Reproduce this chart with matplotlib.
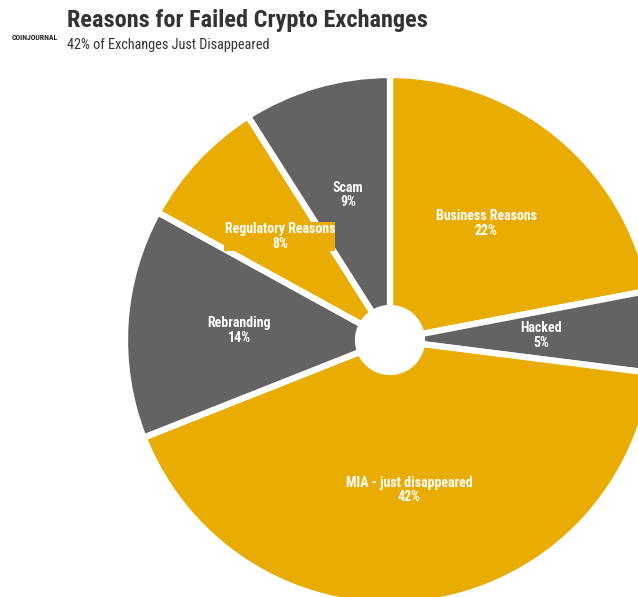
import matplotlib.pyplot as plt
from matplotlib import font_manager

reasons = ["Business Reasons", "Hacked", "MIA - just disappeared",
           "Rebranding", "Regulatory Reasons", "Scam"]
shares = [22, 5, 42, 14, 8, 9]

gold = "#E9AC03"
gray = "#636363"
colors = [gold, gray, gold, gray, gold, gray]

# pick a condensed font if one is there
installed = {f.name for f in font_manager.fontManager.ttflist}
narrow = "Roboto"
for name in ["Roboto Condensed", "Archivo Narrow", "Liberation Sans Narrow"]:
    if name in installed:
        narrow = name
        break

fig = plt.figure(figsize=(6.38, 5.97), dpi=100)
ax = fig.add_axes([0, 0, 1, 1])

labels = [f"{r}\n{s}%" for r, s in zip(reasons, shares)]
wedges, texts = ax.pie(shares, labels=labels, colors=colors, startangle=90,
                       counterclock=False, center=(390, 257), radius=265,
                       labeldistance=0.57, frame=True,
                       wedgeprops=dict(width=233, edgecolor="white",
                                       linewidth=4.5, joinstyle="round"),
                       textprops=dict(color="white", fontweight="bold",
                                      fontsize=10, family=narrow,
                                      ha="center", va="center",
                                      linespacing=1.05))
ax.set_xlim(0, 638)
ax.set_ylim(0, 597)
ax.set_aspect("equal")
ax.axis("off")
texts[4].set_bbox(dict(facecolor=gold, edgecolor="none", pad=0.3))

fig.text(67 / 638, 1 - 21 / 597, "Reasons for Failed Crypto Exchanges",
         fontsize=17.5, fontweight="bold", color="#333333", family=narrow,
         va="center", ha="left")
fig.text(67 / 638, 1 - 45 / 597, "42% of Exchanges Just Disappeared",
         fontsize=10.3, color="#333333", family=narrow, va="center", ha="left")
fig.text(12 / 638, 1 - 37 / 597, "COINJOURNAL", fontsize=5.6,
         fontweight="bold", color="#222222", family=narrow,
         va="center", ha="left")

fig.savefig("out.png", dpi=100)
